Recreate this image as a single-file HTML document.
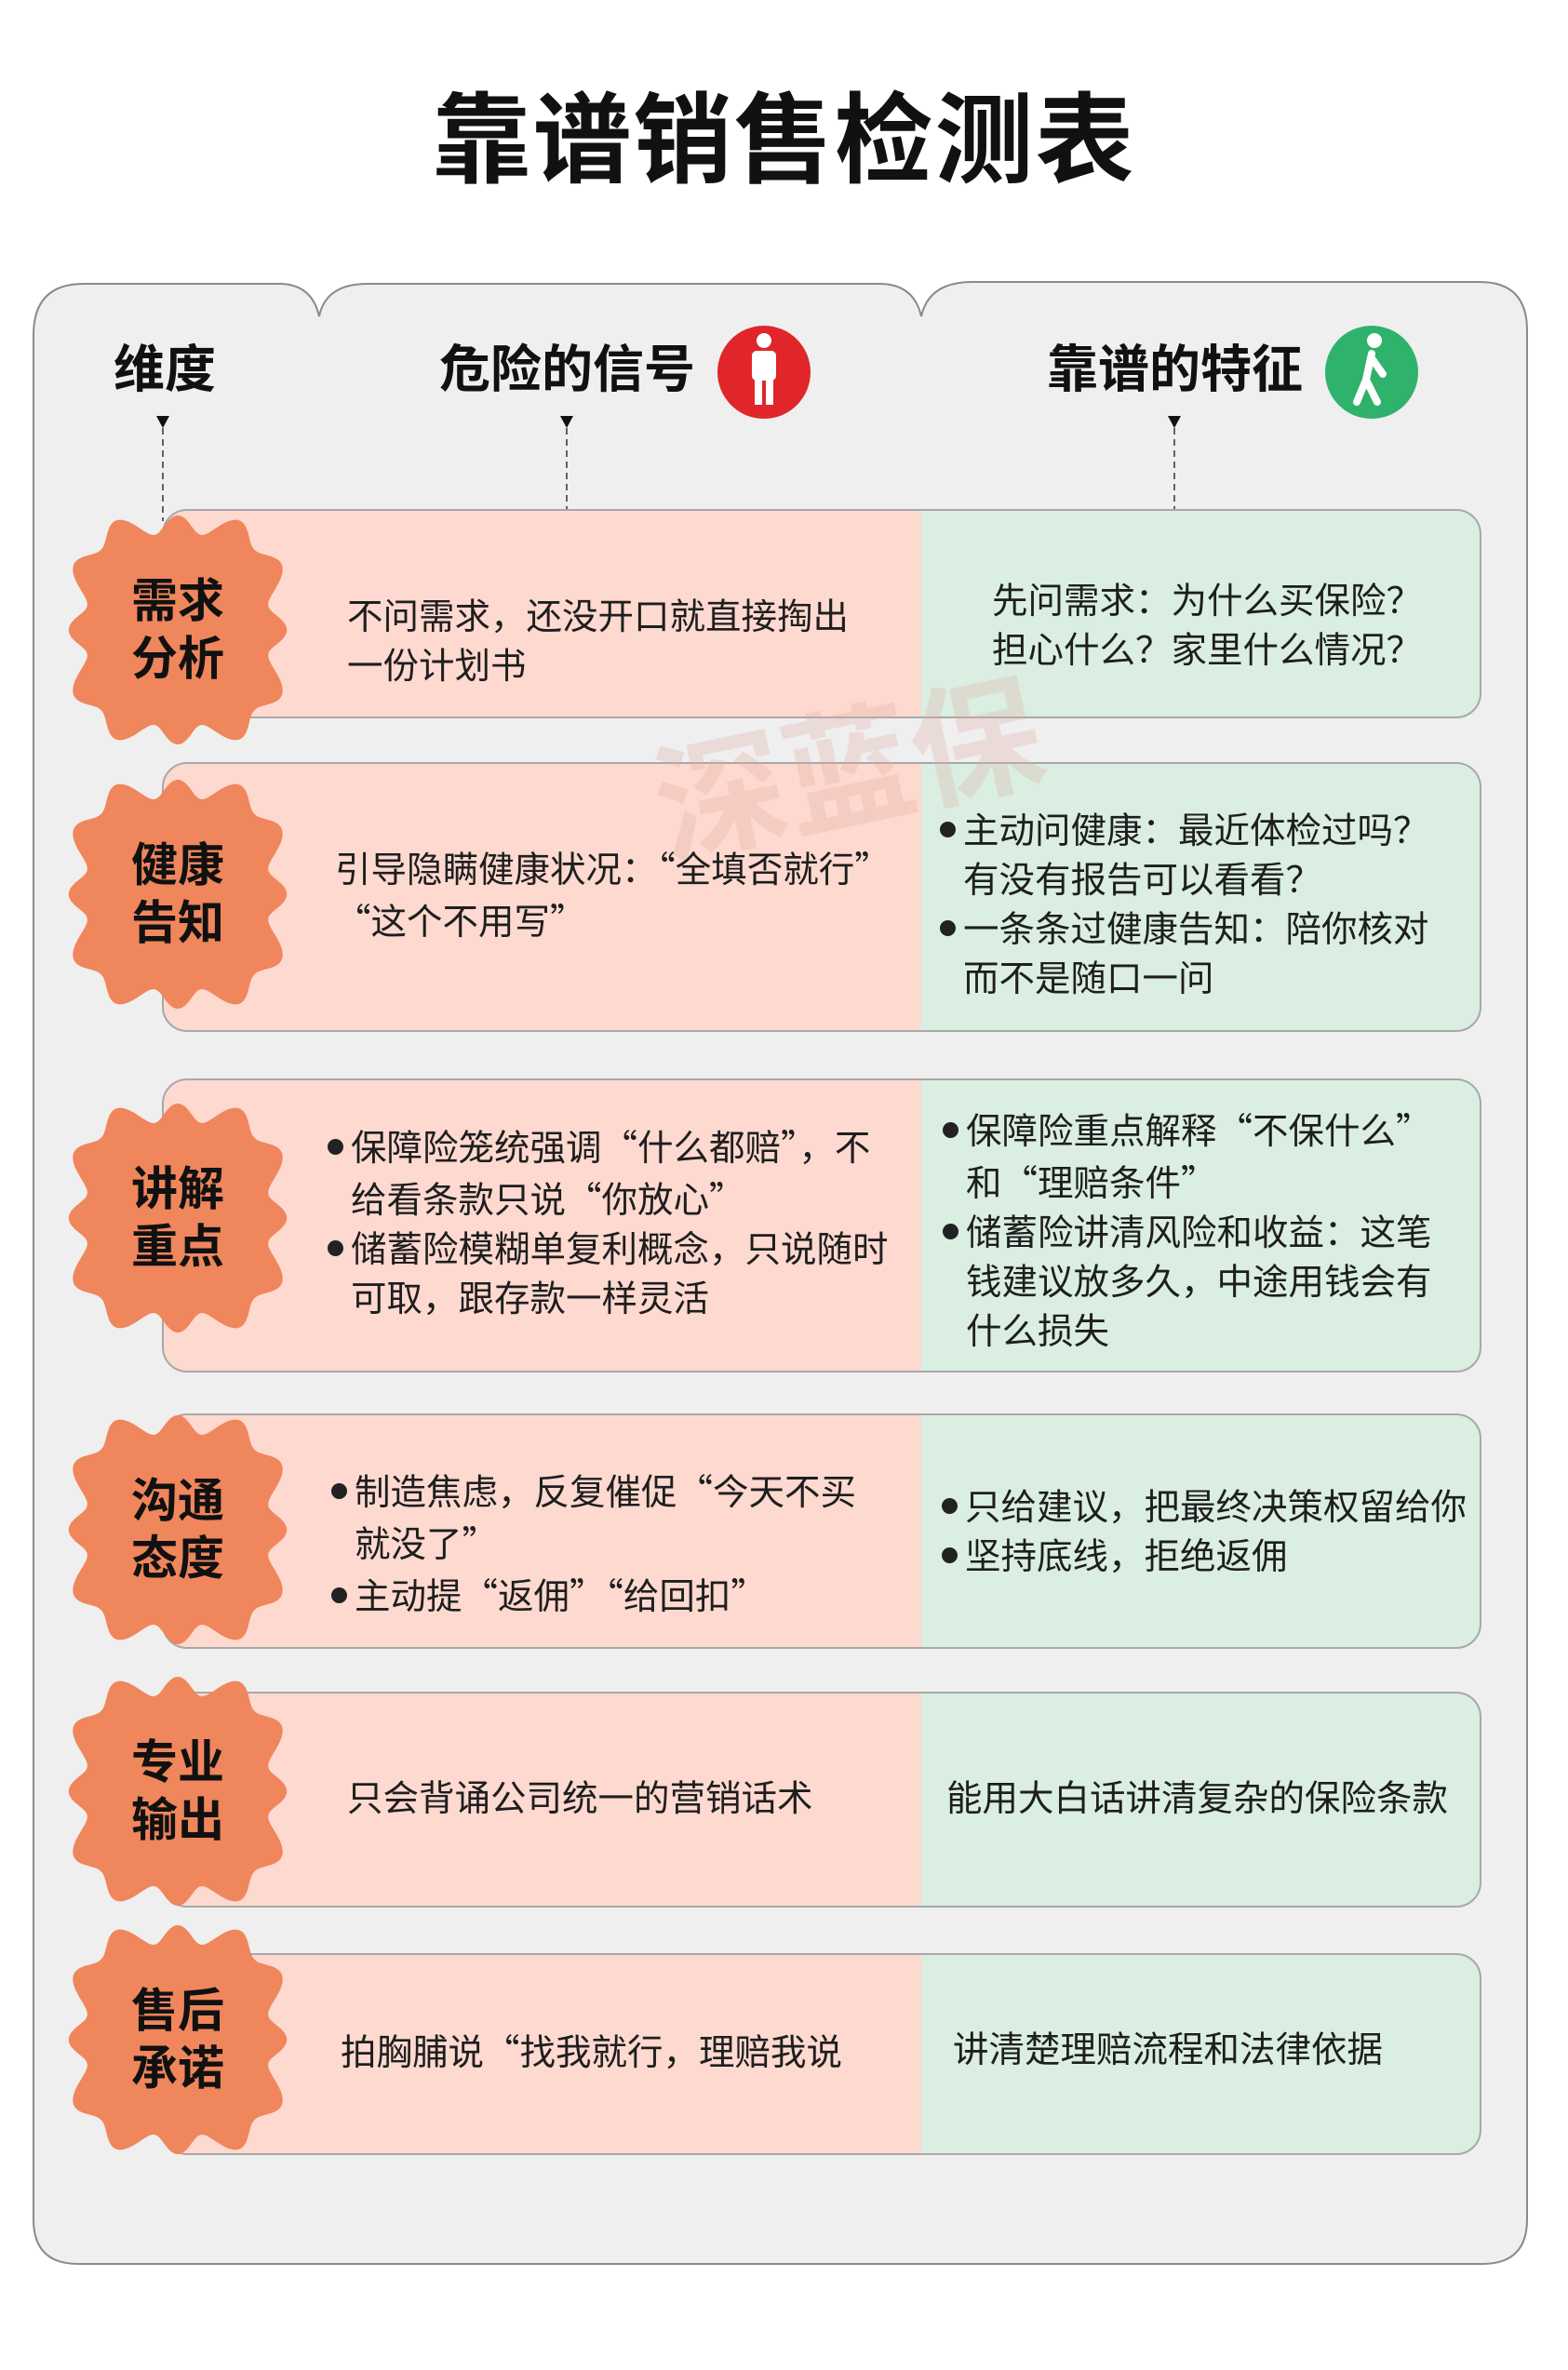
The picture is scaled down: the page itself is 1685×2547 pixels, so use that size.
<!DOCTYPE html>
<html><head><meta charset="utf-8">
<style>
body{margin:0;width:1685px;height:2547px;background:#fff;position:relative;overflow:hidden;font-family:"Liberation Sans","Noto Sans CJK SC",sans-serif;}
.t{position:absolute;font-size:38.5px;line-height:53px;color:#1e1e1e;white-space:nowrap;}
.q{font-family:"Noto Sans CJK SC",sans-serif;}
.b{position:absolute;font-size:50px;font-weight:bold;line-height:62px;color:#111;text-align:center;width:200px;}
.h{position:absolute;font-size:55px;font-weight:bold;color:#111;line-height:60px;white-space:nowrap;}
.dot{display:inline-block;width:17px;height:17px;border-radius:50%;background:#222;margin-right:8px;vertical-align:middle;position:relative;top:-4px;margin-left:-25px}
</style></head><body>
<div class="h" style="left:0;width:1685px;text-align:center;top:92px;font-size:106px;line-height:120px;letter-spacing:2px;">靠谱销售检测表</div>
<svg width="1685" height="2547" style="position:absolute;left:0;top:0" xmlns="http://www.w3.org/2000/svg">
<path d="M36 2385 L36 360 Q36 305 90 305 L300 305 Q335 305 343 340 Q350 305 395 305 L945 305 Q982 305 990 340 Q998 303 1045 303 L1590 303 Q1641 303 1641 355 L1641 2385 Q1641 2433 1593 2433 L84 2433 Q36 2433 36 2385 Z" fill="#efefef" stroke="#8a8a8a" stroke-width="2"/>
<g stroke="#333" stroke-width="1.5" stroke-dasharray="7,5">
<line x1="175" y1="460" x2="175" y2="560"/><line x1="609" y1="460" x2="609" y2="548"/><line x1="1262" y1="460" x2="1262" y2="548"/></g>
<g fill="#111"><path d="M168 447 L182 447 L175 460Z"/><path d="M602 447 L616 447 L609 460Z"/><path d="M1255 447 L1269 447 L1262 460Z"/></g>
<g id="rows"></g>
<circle cx="821" cy="400" r="50" fill="#e0262a"/>
<g fill="#fff"><circle cx="821" cy="366" r="8"/><rect x="808" y="377" width="26" height="32" rx="5"/><rect x="811" y="405" width="8" height="30"/><rect x="823" y="405" width="8" height="30"/></g>
<circle cx="1474" cy="400" r="50" fill="#2fb26b"/>
<g fill="none" stroke="#fff" stroke-width="8" stroke-linecap="round"><path d="M1474 380 L1468 408 L1480 432"/><path d="M1468 408 L1458 432"/><path d="M1474 385 L1486 402"/></g>
<circle cx="1477" cy="366" r="8" fill="#fff"/>
<g transform="rotate(-12 900 820)" opacity="0.3"><text x="700" y="880" font-size="140" font-weight="bold" fill="#e2b0a4" font-family="Liberation Sans,Noto Sans CJK SC,sans-serif">深蓝保</text></g>
</svg>
<div class="h" style="left:122px;top:367px">维度</div>
<div class="h" style="left:472px;top:367px">危险的信号</div>
<div class="h" style="left:1125px;top:367px">靠谱的特征</div>

<div class="t" style="left:373px;top:637px">不问需求，还没开口就直接掏出<br>一份计划书</div>
<div class="t" style="left:1066px;top:620px">先问需求：为什么买保险？<br>担心什么？家里什么情况？</div>

<div class="t" style="left:360px;top:906px">引导隐瞒健康状况：<span class="q">“</span>全填否就行<span class="q">”</span><br><span class="q">“</span>这个不用写<span class="q">”</span></div>
<div class="t" style="left:1035px;top:867px"><span class="dot"></span>主动问健康：最近体检过吗？<br>有没有报告可以看看？<br><span class="dot"></span>一条条过健康告知：陪你核对<br>而不是随口一问</div>

<div class="t" style="left:377px;top:1205px"><span class="dot"></span>保障险笼统强调<span class="q">“</span>什么都赔<span class="q">”</span>，不<br>给看条款只说<span class="q">“</span>你放心<span class="q">”</span><br><span class="dot"></span>储蓄险模糊单复利概念，只说随时<br>可取，跟存款一样灵活</div>
<div class="t" style="left:1038px;top:1187px"><span class="dot"></span>保障险重点解释<span class="q">“</span>不保什么<span class="q">”</span><br>和<span class="q">“</span>理赔条件<span class="q">”</span><br><span class="dot"></span>储蓄险讲清风险和收益：这笔<br>钱建议放多久，中途用钱会有<br>什么损失</div>

<div class="t" style="left:381px;top:1575px"><span class="dot"></span>制造焦虑，反复催促<span class="q">“</span>今天不买<br>就没了<span class="q">”</span><br><span class="dot"></span>主动提<span class="q">“</span>返佣<span class="q">”</span><span class="q">“</span>给回扣<span class="q">”</span></div>
<div class="t" style="left:1037px;top:1594px"><span class="dot"></span>只给建议，把最终决策权留给你<br><span class="dot"></span>坚持底线，拒绝返佣</div>

<div class="t" style="left:373px;top:1907px">只会背诵公司统一的营销话术</div>
<div class="t" style="left:1017px;top:1907px">能用大白话讲清复杂的保险条款</div>
<div class="t" style="left:366px;top:2177px">拍胸脯说<span class="q">“</span>找我就行，理赔我说</div>
<div class="t" style="left:1024px;top:2177px">讲清楚理赔流程和法律依据</div>

<div id="badges"></div>
<script>
var rows=[[548,771],[820,1108],[1160,1474],[1520,1771],[1819,2049],[2100,2315]];
var g='';
rows.forEach(function(r){var y=r[0],h=r[1]-r[0];
g+='<clipPath id="c'+y+'"><rect x="175" y="'+y+'" width="1416" height="'+h+'" rx="26"/></clipPath>';
g+='<g clip-path="url(#c'+y+')"><rect x="175" y="'+y+'" width="815" height="'+h+'" fill="#fdd9d0"/><rect x="990" y="'+y+'" width="601" height="'+h+'" fill="#daeee2"/></g>';
g+='<rect x="175" y="'+y+'" width="1416" height="'+h+'" rx="26" fill="none" stroke="#a8a8a8" stroke-width="2"/>';});
var badges=[[677,'需求','分析'],[961,'健康','告知'],[1309,'讲解','重点'],[1644,'沟通','态度'],[1925,'专业','输出'],[2192,'售后','承诺']];
badges.forEach(function(b){var cx=191,cy=b[0],pts=[];
for(var i=0;i<720;i++){var th=i*Math.PI/360;var c=Math.cos(th),s=Math.sin(th);
var n=4,base=Math.pow(Math.pow(Math.abs(c),n)+Math.pow(Math.abs(s),n),-1/n);
var r=(110*base*0.92)+10*Math.cos(12*th)+6;
pts.push((cx+r*c).toFixed(1)+','+(cy+r*s*1.05).toFixed(1));}
g+='<polygon points="'+pts.join(' ')+'" fill="#f0865c"/>';
document.getElementById('badges').innerHTML+='<div class="b" style="left:'+(cx-100)+'px;top:'+(cy-62)+'px">'+b[1]+'<br>'+b[2]+'</div>';});
document.getElementById('rows').innerHTML=g;
</script>
</body></html>
